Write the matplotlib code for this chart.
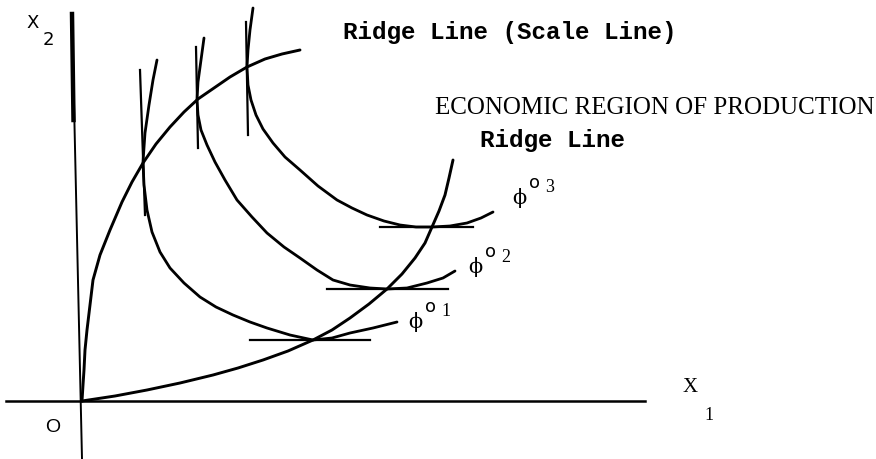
import matplotlib
matplotlib.use("Agg")
import matplotlib.pyplot as plt

# coordinates: origin O of the diagram, x1 to the right, x2 up (units ~ pixels)
ridge_up_x = [0, 1, 2, 3, 5, 8, 11, 18, 28, 40, 50, 61, 74, 88, 102, 116, 132, 148, 165, 183, 200, 218]
ridge_up_y = [0, 16, 31, 51, 71, 96, 121, 146, 171, 199, 219, 238, 257, 274, 289, 302, 313, 324, 334, 342, 347, 351]

ridge_lo_x = [0, 33, 65, 98, 131, 156, 181, 206, 231, 250, 268, 287, 305, 320, 333, 343, 350, 357, 363, 367, 371]
ridge_lo_y = [0, 5, 11, 18, 26, 33, 41, 50, 61, 71, 83, 97, 112, 127, 143, 158, 174, 190, 206, 223, 241]

phi1_x = [75, 71, 67, 63, 61, 62, 65, 70, 78, 88, 102, 118, 134, 151, 168, 185, 208, 231, 250, 268, 291, 315]
phi1_y = [341, 321, 296, 268, 239, 216, 191, 169, 149, 133, 118, 104, 94, 86, 79, 73, 66, 61, 63, 68, 73, 79]

phi2_x = [122, 119, 116, 115, 116, 119, 125, 133, 143, 155, 170, 185, 202, 218, 235, 251, 268, 288, 305, 325, 345, 361, 373]
phi2_y = [363, 341, 319, 301, 286, 271, 256, 239, 221, 201, 184, 168, 154, 143, 131, 121, 116, 113, 112, 113, 118, 123, 130]

phi3_x = [171, 168, 166, 165, 166, 169, 174, 181, 191, 203, 218, 236, 255, 270, 285, 302, 318, 334, 350, 368, 385, 399, 411]
phi3_y = [393, 371, 351, 334, 316, 301, 286, 272, 258, 244, 231, 215, 201, 193, 186, 180, 176, 174, 174, 175, 178, 183, 189]

# vertical tangents (x0, y0, x1, y1)
vticks = [(58, 331, 63, 186), (114, 354, 116, 253), (164, 379, 166, 266)]
# horizontal tangents (x0, x1, y)
hticks = [(168, 288, 61), (245, 366, 112), (298, 391, 174)]

phi_labels = ["1", "2", "3"]
phi_pos = [(333, 79), (393, 134), (437, 203)]

fig = plt.figure(figsize=(8.76, 4.59), dpi=100)
ax = fig.add_axes([0, 0, 1, 1])
ax.set_xlim(-82, 794)
ax.set_ylim(-58, 401)
ax.axis("off")

k = "black"
# axes of the diagram
ax.plot([-76, 563], [0, 0], color=k, lw=1.8)
ax.plot([-10, 0], [387, -58], color=k, lw=1.4)
ax.plot([-10, -8.5], [387, 281], color=k, lw=3.2)

ax.plot(ridge_up_x, ridge_up_y, color=k, lw=2.1, solid_capstyle="round", solid_joinstyle="round")
ax.plot(ridge_lo_x, ridge_lo_y, color=k, lw=2.1, solid_capstyle="round", solid_joinstyle="round")
for xs, ys in [(phi1_x, phi1_y), (phi2_x, phi2_y), (phi3_x, phi3_y)]:
    ax.plot(xs, ys, color=k, lw=2.0, solid_capstyle="round", solid_joinstyle="round")

for x0, y0, x1, y1 in vticks:
    ax.plot([x0, x1], [y0, y1], color=k, lw=1.6)
for x0, x1, y in hticks:
    ax.plot([x0, x1], [y, y], color=k, lw=1.6)

mono = "Liberation Mono"
ax.text(261, 368, "Ridge Line (Scale Line)", family=mono, weight="bold",
        fontsize=17.5, ha="left", va="center")
ax.text(353, 293, "ECONOMIC REGION OF PRODUCTION", family="Liberation Serif",
        fontsize=18, ha="left", va="center")
ax.text(398, 261, "Ridge Line", family=mono, weight="bold",
        fontsize=17.5, ha="left", va="center")

for lab, (px, py) in zip(phi_labels, phi_pos):
    ax.text(px, py, "\u03d5", fontsize=15, ha="center", va="center",
            family="DejaVu Serif")
    ax.text(px + 15, py + 15, "o", fontsize=13, ha="center", va="center",
            family="DejaVu Sans")
    ax.text(px + 31, py + 10, lab, fontsize=13, ha="center", va="center",
            family="Liberation Serif")

ax.text(-49, 378, "X", fontsize=13, ha="center", va="center", family="DejaVu Sans")
ax.text(-34, 361, "2", fontsize=13, ha="center", va="center", family="DejaVu Sans")
ax.text(608, 13, "X", fontsize=15, ha="center", va="center", family="Liberation Serif")
ax.text(627, -15, "1", fontsize=13, ha="center", va="center", family="Liberation Serif")
ax.text(-29, -26, "O", fontsize=14, ha="center", va="center", family="Liberation Sans")

fig.savefig("out.png", dpi=100)
